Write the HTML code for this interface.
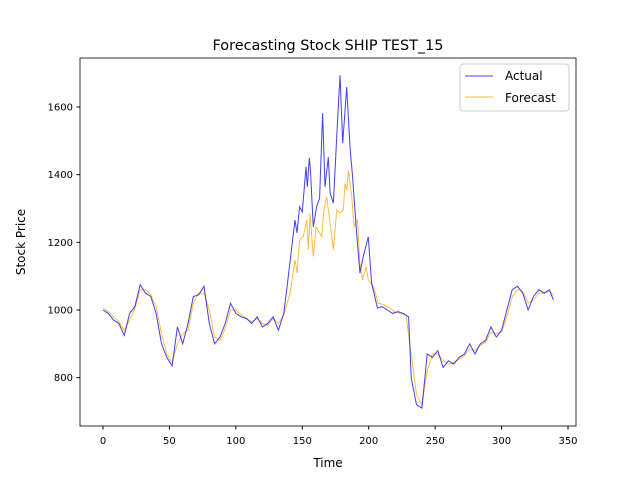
<!DOCTYPE html>
<html><head><meta charset="utf-8"><style>
body{margin:0;background:#fff}
svg text{font-family:"DejaVu Sans","Liberation Sans",sans-serif;fill:#000}
</style></head><body>
<svg id="chart" width="640" height="480">
<rect width="640" height="480" fill="#fff"/>
<text x="328" y="50" font-size="14.4" text-anchor="middle">Forecasting Stock SHIP TEST_15</text>
<g id="plot"></g>
<rect x="80" y="58" width="496" height="368" fill="none" stroke="#000" stroke-width="0.8"/>
<g id="ticks"></g>
<text x="328" y="467" font-size="12" text-anchor="middle">Time</text>
<text transform="translate(25,242) rotate(-90)" font-size="12" text-anchor="middle">Stock Price</text>
<g>
<rect x="460" y="64" width="109" height="47" rx="3" fill="#fff" stroke="#ccc"/>
<line x1="465" y1="76" x2="493" y2="76" stroke="#4040ff" stroke-width="1"/>
<text x="505" y="80" font-size="12">Actual</text>
<line x1="465" y1="97" x2="493" y2="97" stroke="#ffb840" stroke-width="1"/>
<text x="505" y="102" font-size="12">Forecast</text>
</g>
</svg>
<script>
const actualTimes=[0,4,8,12,16,20,24,28,32,36,40,44,48,52,56,60,64,68,72,76,80,84,88,92,96,100,104,108,112,116,120,124,128,132,136,138,144.5,146,148,150,152.8,153.8,155.3,156,158.3,160.8,163,165.3,167.1,169.6,170.9,173.4,175.9,178.4,180.4,183.4,185.9,187.9,190.9,193.4,196,199.7,202.2,206.5,210,214,218,222,226,230,232,236,240,244,248,252,256,260,264,268,272,276,280,284,288,292,296,300,304,308,312,316,320,324,328,332,336,339];
const actual=[1000,990,970,960,925,990,1010,1075,1050,1040,990,900,860,835,950,900,960,1040,1045,1070,960,900,920,960,1020,990,980,975,960,980,950,960,980,940,990,1050,1266,1228,1305,1290,1423,1364,1449,1420,1246,1305,1330,1582,1364,1452,1346,1316,1511,1694,1493,1659,1482,1393,1228,1109,1160,1216,1080,1006,1010,1000,990,995,990,980,800,720,710,870,860,880,830,850,840,860,870,900,870,900,910,950,920,940,1000,1060,1070,1050,1000,1040,1060,1050,1060,1030];
const forecastTimes=[0,4,8,12,16,20,24,28,32,36,40,44,48,52,56,60,64,68,72,76,80,84,88,92,96,100,104,108,112,116,120,124,128,132,136,140.8,144.5,146,148,150.8,153.3,154.6,155.8,158.3,160.3,164.6,166.3,168.3,170.9,173.4,175.9,178.4,180.9,182.2,183.4,184.7,187.2,189,191.5,193.4,195.4,198,199.7,203.5,207.2,212,216,220,224,228,232,236,240,244,248,252,256,260,264,268,272,276,280,284,288,292,296,300,304,308,312,316,320,324,328,332,336,339];
const forecast=[1005,995,980,965,940,970,1005,1060,1060,1045,1010,930,870,845,900,930,940,1020,1050,1050,1000,920,910,945,1000,1000,985,975,965,975,960,955,975,960,985,1050,1148,1109,1207,1217,1266,1178,1286,1158,1246,1217,1295,1335,1256,1178,1295,1286,1295,1374,1354,1413,1335,1246,1266,1138,1089,1128,1089,1069,1020,1015,1005,995,990,985,870,750,720,820,870,870,850,840,845,855,865,885,880,895,905,935,930,935,980,1040,1060,1055,1020,1030,1050,1050,1055,1045];
const xTicks=[0,50,100,150,200,250,300,350];
const yTicks=[800,1000,1200,1400,1600];
const NS='http://www.w3.org/2000/svg';
const xs=t=>103+t*(568-103)/350;
const ys=v=>310-(v-1000)*(310-107)/600;
const plot=document.getElementById('plot'),tk=document.getElementById('ticks');
function addLine(ts,vals,color,name){
 const p=document.createElementNS(NS,'polyline');
 p.setAttribute('points',vals.map((v,i)=>xs(ts[i]).toFixed(1)+','+ys(v).toFixed(1)).join(' '));
 p.setAttribute('fill','none');p.setAttribute('stroke',color);p.setAttribute('stroke-width','1');p.setAttribute('stroke-opacity','0.75');
 
 
 plot.appendChild(p);
}
addLine(forecastTimes,forecast,'#ffa500','forecast-line');
addLine(actualTimes,actual,'#0000ff','actual-line');
xTicks.forEach(t=>{
 const l=document.createElementNS(NS,'line');
 l.setAttribute('x1',xs(t));l.setAttribute('x2',xs(t));l.setAttribute('y1',426);l.setAttribute('y2',429.5);l.setAttribute('stroke','#000');
 
 
 tk.appendChild(l);
 const s=document.createElementNS(NS,'text');
 s.setAttribute('x',xs(t));s.setAttribute('y',444);s.setAttribute('font-size','10');s.setAttribute('text-anchor','middle');s.textContent=t;
 
 
 tk.appendChild(s);
});
yTicks.forEach(v=>{
 const l=document.createElementNS(NS,'line');
 l.setAttribute('x1',76.5);l.setAttribute('x2',80);l.setAttribute('y1',ys(v));l.setAttribute('y2',ys(v));l.setAttribute('stroke','#000');
 
 
 tk.appendChild(l);
 const s=document.createElementNS(NS,'text');
 s.setAttribute('x',73);s.setAttribute('y',ys(v)+3.5);s.setAttribute('font-size','10');s.setAttribute('text-anchor','end');s.textContent=v;
 
 
 tk.appendChild(s);
});
</script>
</body></html>
